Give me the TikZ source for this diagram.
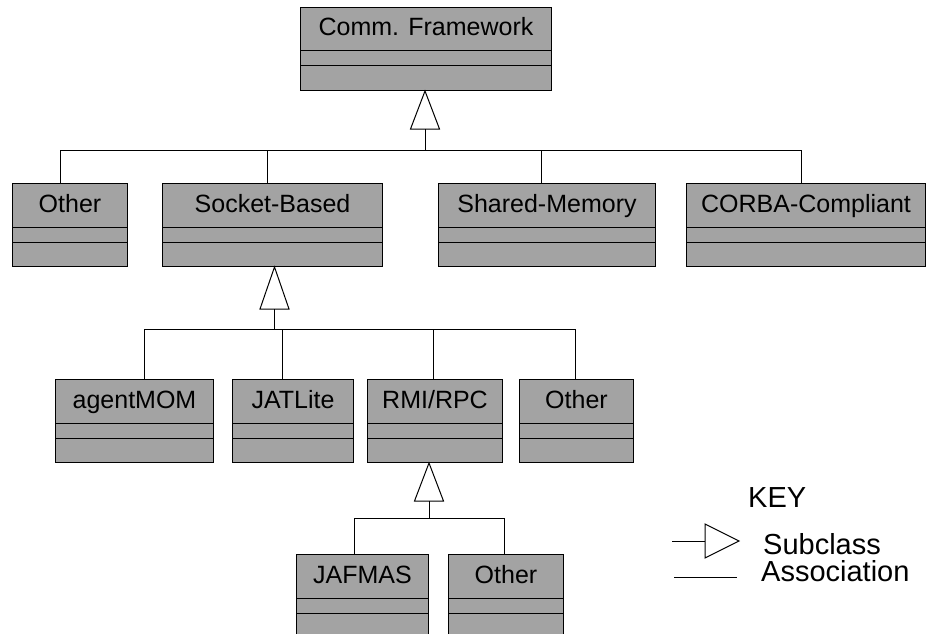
\documentclass[tikz,border=0pt]{standalone}
\usepackage{fontspec}
\setmainfont{Liberation Sans}
\usetikzlibrary{calc}
\tikzset{
  umlbox/.style={draw=black, line width=1pt, fill=black!36, rectangle,
    minimum height=83pt, inner sep=0pt, anchor=north west},
  lbl/.style={font=\fontsize{25}{25}\selectfont, inner sep=0pt, anchor=base},
  keytxt/.style={font=\fontsize{29}{29}\selectfont, inner sep=0pt, anchor=base west},
  divider/.style={draw=black, line width=1pt},
  conn/.style={draw=black, line width=0.9pt},
  tri/.style={draw=black, line width=1pt, fill=white, line join=miter},
}
% name, x, y, width, text
\newcommand\umlcls[5]{%
  \node[umlbox, minimum width=#4pt] (#1) at (#2,#3) {};
  \node[lbl] (#1-t) at ($(#1.north)+(0,29)$) {#5};
  \draw[divider] ($(#1.north west)+(0,44)$) -- ($(#1.north east)+(0,44)$);
  \draw[divider] ($(#1.north west)+(0,59)$) -- ($(#1.north east)+(0,59)$);
}
% tip coordinate name, base coordinate name, parent box, x offset, height
\newcommand\subtri[5]{%
  \coordinate (#1) at ($(#3.south)+(#4,0)$);
  \coordinate (#2) at ($(#1)+(0,#5)$);
  \draw[tri] (#1) -- ($(#2)+(-14.5,0)$) -- ($(#2)+(14.5,0)$) -- cycle;
}
\begin{document}
\begin{tikzpicture}[x=1pt,y=-1pt]
\clip (0,0) rectangle (929,634);
\fill[white] (0,0) rectangle (929,634);

% level 1
\umlcls{cf}{300}{7}{251}{Comm. Framework}
% level 2
\umlcls{oa}{12}{183}{115}{Other}
\umlcls{sb}{162}{183}{220}{Socket-Based}
\umlcls{sm}{438}{183}{217}{Shared-Memory}
\umlcls{cc}{686}{183}{239}{CORBA-Compliant}
% level 3
\umlcls{am}{55}{379}{158}{agentMOM}
\umlcls{jl}{232}{379}{121}{JATLite}
\umlcls{rr}{367}{379}{135}{RMI/RPC}
\umlcls{ob}{519}{379}{114}{Other}
% level 4
\umlcls{jf}{296}{554}{132}{JAFMAS}
\umlcls{oc}{448}{554}{115}{Other}

% generalisation 1
\subtri{cfT}{cfB}{cf}{-1}{38}
\coordinate (busA) at (cfB |- 0,150);
\draw[conn] (cfB) -- (busA);
\foreach \c/\d in {oa/-10,sb/-5,sm/-6,cc/-5}{\draw[conn] ($(\c.north)+(\d,0)$) |- (busA);}

% generalisation 2
\subtri{sbT}{sbB}{sb}{2}{42}
\coordinate (busB) at (sbB |- 0,329);
\draw[conn] (sbB) -- (busB);
\foreach \c/\d in {am/10,jl/-11,rr/-2,ob/-1}{\draw[conn] ($(\c.north)+(\d,0)$) |- (busB);}

% generalisation 3
\subtri{rrT}{rrB}{rr}{-6}{38}
\coordinate (busC) at (rrB |- 0,518);
\draw[conn] (rrB) -- (busC);
\foreach \c/\d in {jf/-8,oc/-2}{\draw[conn] ($(\c.north)+(\d,0)$) |- (busC);}

% key
\node[keytxt] (key) at (748,507) {KEY};
\node[keytxt] (ksub) at (763,554) {Subclass};
\node[keytxt] (kass) at (761,581) {Association};
\coordinate (ks1) at (672,541);
\coordinate (ks2) at (705,541);
\draw[conn] (ks1) -- (ks2);
\draw[tri] ($(ks2)+(0,-17)$) -- ($(ks2)+(34,0)$) -- ($(ks2)+(0,17)$) -- cycle;
\coordinate (ka1) at (674,577);
\coordinate (ka2) at (737,577);
\draw[conn] (ka1) -- (ka2);
\end{tikzpicture}
\end{document}
